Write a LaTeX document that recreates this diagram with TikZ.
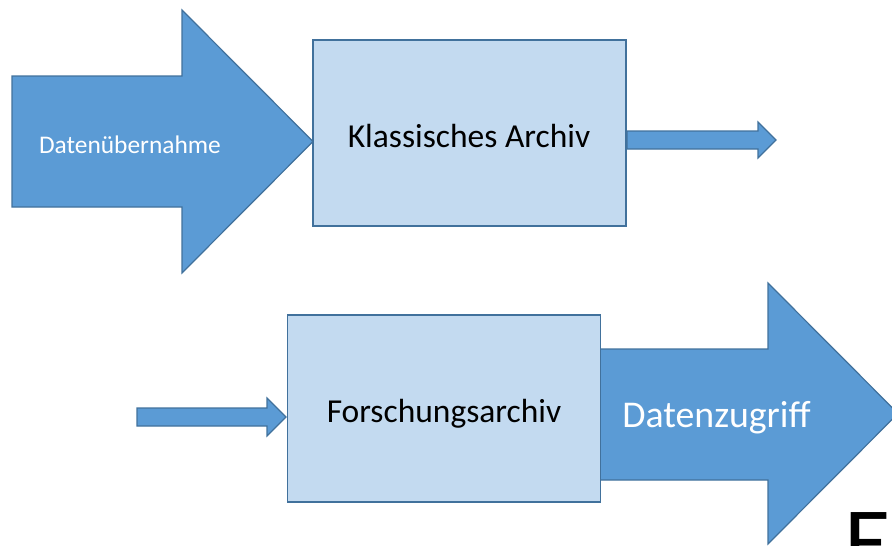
\documentclass[tikz,border=0pt]{standalone}
\usepackage{fontspec}
\setmainfont{Carlito}
\begin{document}
\begin{tikzpicture}[x=1pt,y=-1pt,
  blockarrow/.style={fill=arrowblue,draw=arrowedge,line width=1.2pt,line join=miter},
  archivebox/.style={fill=boxblue,draw=arrowedge,line width=1.5pt,inner sep=0pt},
  boxtext/.style={inner sep=0pt,anchor=base,text=black,font=\fontsize{33.5}{38}\selectfont},
  lighttext/.style={text=white,inner sep=0pt,anchor=base}]
\definecolor{arrowblue}{HTML}{5B9BD5}
\definecolor{arrowedge}{HTML}{41719C}
\definecolor{boxblue}{HTML}{C3DAF0}
\useasboundingbox (0,0) rectangle (892,546);
\begin{scope}
\clip (0,0) rectangle (892,546);
% top row: incoming block arrow
\path[blockarrow] (12,76) -- (182,76) -- (182,10) -- (313,141.5) -- (182,273) -- (182,207) -- (12,207) -- cycle;
\node[lighttext,font=\fontsize{25.4}{30}\selectfont] (uebernahme) at (130,153) {Datenübernahme};
% classic archive
\node[archivebox,minimum width=313pt,minimum height=186pt] (klassisch) at (469.5,133) {};
\node[boxtext] (klassischtext) at (469,147) {Klassisches Archiv};
% outgoing thin arrow
\path[blockarrow] (627,131) -- (758,131) -- (758,122) -- (776,140) -- (758,158) -- (758,149) -- (627,149) -- cycle;
% bottom row: thin incoming arrow
\path[blockarrow] (137,408) -- (267,408) -- (267,398) -- (286,417) -- (267,436) -- (267,426) -- (137,426) -- cycle;
% outgoing big arrow (head runs past the right edge)
\path[blockarrow] (590,349) -- (768,349) -- (768,283) -- (898,413.5) -- (768,544) -- (768,480) -- (590,480) -- cycle;
\node[lighttext,font=\fontsize{37.8}{44}\selectfont] (zugriff) at (716.5,427) {Datenzugriff};
% research archive
\node[archivebox,minimum width=313pt,minimum height=187pt] (forschung) at (444,408.5) {};
\node[boxtext] (forschungtext) at (444,422) {Forschungsarchiv};
% letter cut off at the lower edge
\node[inner sep=0pt,anchor=base west,font=\fontsize{95}{105}\selectfont] (cutletter) at (844,573) {E};
\end{scope}
\end{tikzpicture}
\end{document}
